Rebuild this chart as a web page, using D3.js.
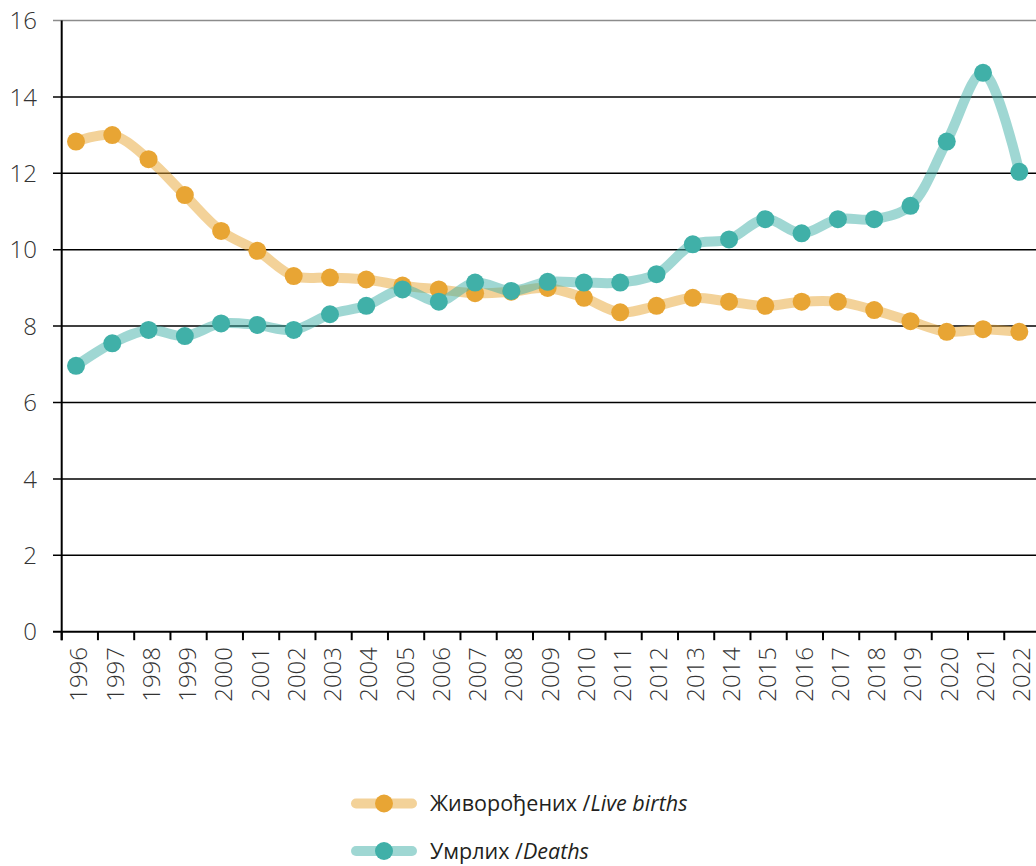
<!DOCTYPE html>
<html>
<head>
<meta charset="utf-8">
<script src="https://cdn.jsdelivr.net/npm/d3@7"></script>
<style>
  body { margin: 0; background: #fff; }
  svg { display: block; font-family: "Open Sans", sans-serif; }
</style>
</head>
<body>
<div id="chart"></div>
<script>
const years = [1996, 1997, 1998, 1999, 2000, 2001, 2002, 2003, 2004, 2005, 2006, 2007, 2008, 2009,
  2010, 2011, 2012, 2013, 2014, 2015, 2016, 2017, 2018, 2019, 2020, 2021, 2022];
const liveBirths = [12.83, 13.0, 12.37, 11.43, 10.49, 9.97, 9.31, 9.27, 9.22, 9.06, 8.96, 8.86, 8.9, 9.0,
  8.74, 8.36, 8.53, 8.74, 8.64, 8.53, 8.64, 8.64, 8.42, 8.13, 7.85, 7.92, 7.85];
const deaths = [6.96, 7.55, 7.9, 7.74, 8.07, 8.03, 7.9, 8.31, 8.53, 8.96, 8.64, 9.14, 8.92, 9.16,
  9.14, 9.14, 9.36, 10.14, 10.27, 10.8, 10.43, 10.8, 10.8, 11.15, 12.83, 14.63, 12.04];
const yTicks = [0, 2, 4, 6, 8, 10, 12, 14, 16];
const seriesNames = ["Живорођених", "Умрлих"];
const seriesNamesEn = ["Live births", "Deaths"];

const width = 1036;
const height = 866;
const textColor = "#333";
const dotColors = ["#e8a534", "#40b0a8"];

const svg = d3.select("#chart")
  .append("svg")
  .attr("width", width)
  .attr("height", height);

// axis bands (ticks + labels) and point positions for markers
const x = d3.scaleBand().domain(years).range([61.7, 1040.5]);
const xp = d3.scalePoint().domain(years).range([76, 1019.3]);
const y = d3.scaleLinear().domain([0, 16]).range([631.7, 20.5]);

// gridlines
svg.selectAll("line.grid")
  .data(yTicks)
  .enter()
  .append("line")
  .attr("class", "grid")
  .attr("x1", 53)
  .attr("x2", width)
  .attr("y1", d => y(d))
  .attr("y2", d => y(d))
  .attr("stroke", d => d === 16 ? "#8c8c8c" : "#000")
  .attr("stroke-width", d => d === 0 ? 2 : 1.5);

// y axis line
svg.append("line")
  .attr("x1", x(years[0]))
  .attr("x2", x(years[0]))
  .attr("y1", y(16))
  .attr("y2", y(0) + 8.5)
  .attr("stroke", "#000")
  .attr("stroke-width", 2);

// y labels
svg.selectAll("text.ylab")
  .data(yTicks)
  .enter()
  .append("text")
  .attr("class", "ylab")
  .attr("x", 37)
  .attr("y", d => y(d))
  .attr("dy", "0.36em")
  .attr("text-anchor", "end")
  .attr("font-size", "24px")
  .attr("font-weight", 300)
  .attr("fill", textColor)
  .text(d => d);

// x ticks at band edges
const edges = years.map(d => x(d)).concat([x(years[years.length - 1]) + x.bandwidth()]);
svg.selectAll("line.xtick")
  .data(edges)
  .enter()
  .append("line")
  .attr("class", "xtick")
  .attr("x1", d => d)
  .attr("x2", d => d)
  .attr("y1", y(0))
  .attr("y2", y(0) + 8.5)
  .attr("stroke", "#000")
  .attr("stroke-width", 2);

// x labels, rotated
svg.selectAll("text.xlab")
  .data(years)
  .enter()
  .append("text")
  .attr("class", "xlab")
  .attr("transform", d => `translate(${x(d) + x.bandwidth() / 2 - 1},647) rotate(-90)`)
  .attr("dy", "0.36em")
  .attr("text-anchor", "end")
  .attr("font-size", "24px")
  .attr("font-weight", 300)
  .attr("fill", textColor)
  .text(d => d);

const line = d3.line()
  .x(d => xp(d.year))
  .y(d => y(d.v))
  .curve(d3.curveCatmullRom.alpha(0.5));

[liveBirths, deaths].forEach((vals, i) => {
  const pts = years.map((yr, j) => ({ year: yr, v: vals[j] }));
  svg.append("path")
    .datum(pts)
    .attr("d", line)
    .attr("fill", "none")
    .attr("stroke", dotColors[i])
    .attr("stroke-opacity", 0.5)
    .attr("stroke-width", 10)
    .attr("stroke-linecap", "round")
    .attr("stroke-linejoin", "round");

  svg.selectAll(null)
    .data(pts)
    .enter()
    .append("circle")
    .attr("cx", d => xp(d.year))
    .attr("cy", d => y(d.v))
    .attr("r", 9)
    .attr("fill", dotColors[i]);
});

// Legend
const legendY = [803.5, 851];
seriesNames.forEach((name, i) => {
  const g = svg.append("g").attr("transform", `translate(0,${legendY[i]})`);
  g.append("line")
    .attr("x1", 356)
    .attr("x2", 412)
    .attr("stroke", dotColors[i])
    .attr("stroke-opacity", 0.5)
    .attr("stroke-width", 10)
    .attr("stroke-linecap", "round");
  g.append("circle")
    .attr("cx", 384)
    .attr("r", 9)
    .attr("fill", dotColors[i]);
  const t = g.append("text")
    .attr("x", 430)
    .attr("dy", "0.36em")
    .attr("font-size", "21.5px")
    .attr("fill", "#231f20");
  t.append("tspan").text(name + " /");
  t.append("tspan").attr("font-style", "italic").text(seriesNamesEn[i]);
});
</script>
</body>
</html>
